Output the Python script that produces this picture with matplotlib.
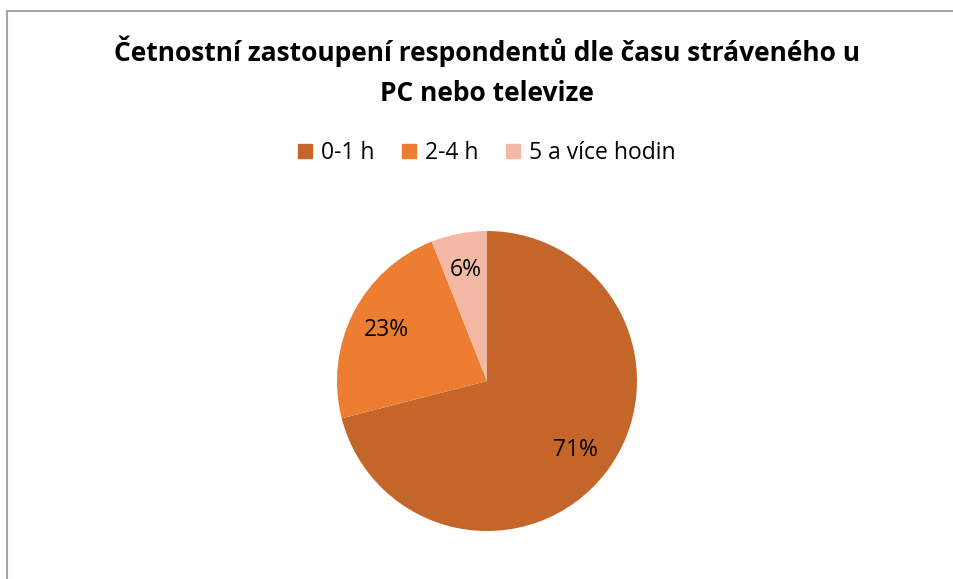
import matplotlib
matplotlib.use("Agg")
import matplotlib.pyplot as plt
from matplotlib.patches import Rectangle, Patch

categories = ["0-1 h", "2-4 h", "5 a více hodin"]
values = [71, 23, 6]
colors = ["#C4652A", "#ED7D31", "#F4B9A5"]
title = "Četnostní zastoupení respondentů dle času stráveného u\nPC nebo televize"

plt.rcParams['font.family'] = ['Open Sans', 'DejaVu Sans']

W, H = 954, 579
fig = plt.figure(figsize=(W/100, H/100), dpi=100)

# border
fig.patches.append(Rectangle((7/W, -0.1), 1.2, 1 - 11/H + 0.1, transform=fig.transFigure,
                             fill=False, edgecolor="#A6A6A6", linewidth=1.5, clip_on=False))

fig.text(487/W, 1 - 71/H, title, ha="center", va="center", fontsize=19,
         fontweight="bold", linespacing=1.6)

ax = fig.add_axes([337/W, 48/H, 300/W, 300/H])
wedges, texts, autotexts = ax.pie(values, colors=colors, startangle=90, counterclock=False,
                                  autopct="%1.0f%%", pctdistance=0.75, radius=1,
                                  textprops=dict(fontsize=16.5, color="black"))
ax.set_xlim(-1, 1)
ax.set_ylim(-1, 1)
ax.set_aspect("equal")
ax.axis("off")

handles = [Patch(facecolor=c, edgecolor=c) for c in colors]
fig.legend(handles, categories, loc="center", bbox_to_anchor=(487/W, 1 - 153/H), ncol=3,
           frameon=False, fontsize=16.5, handlelength=0.6, handleheight=0.6,
           handletextpad=0.4, columnspacing=1.2)

fig.savefig("out.png", dpi=100)
